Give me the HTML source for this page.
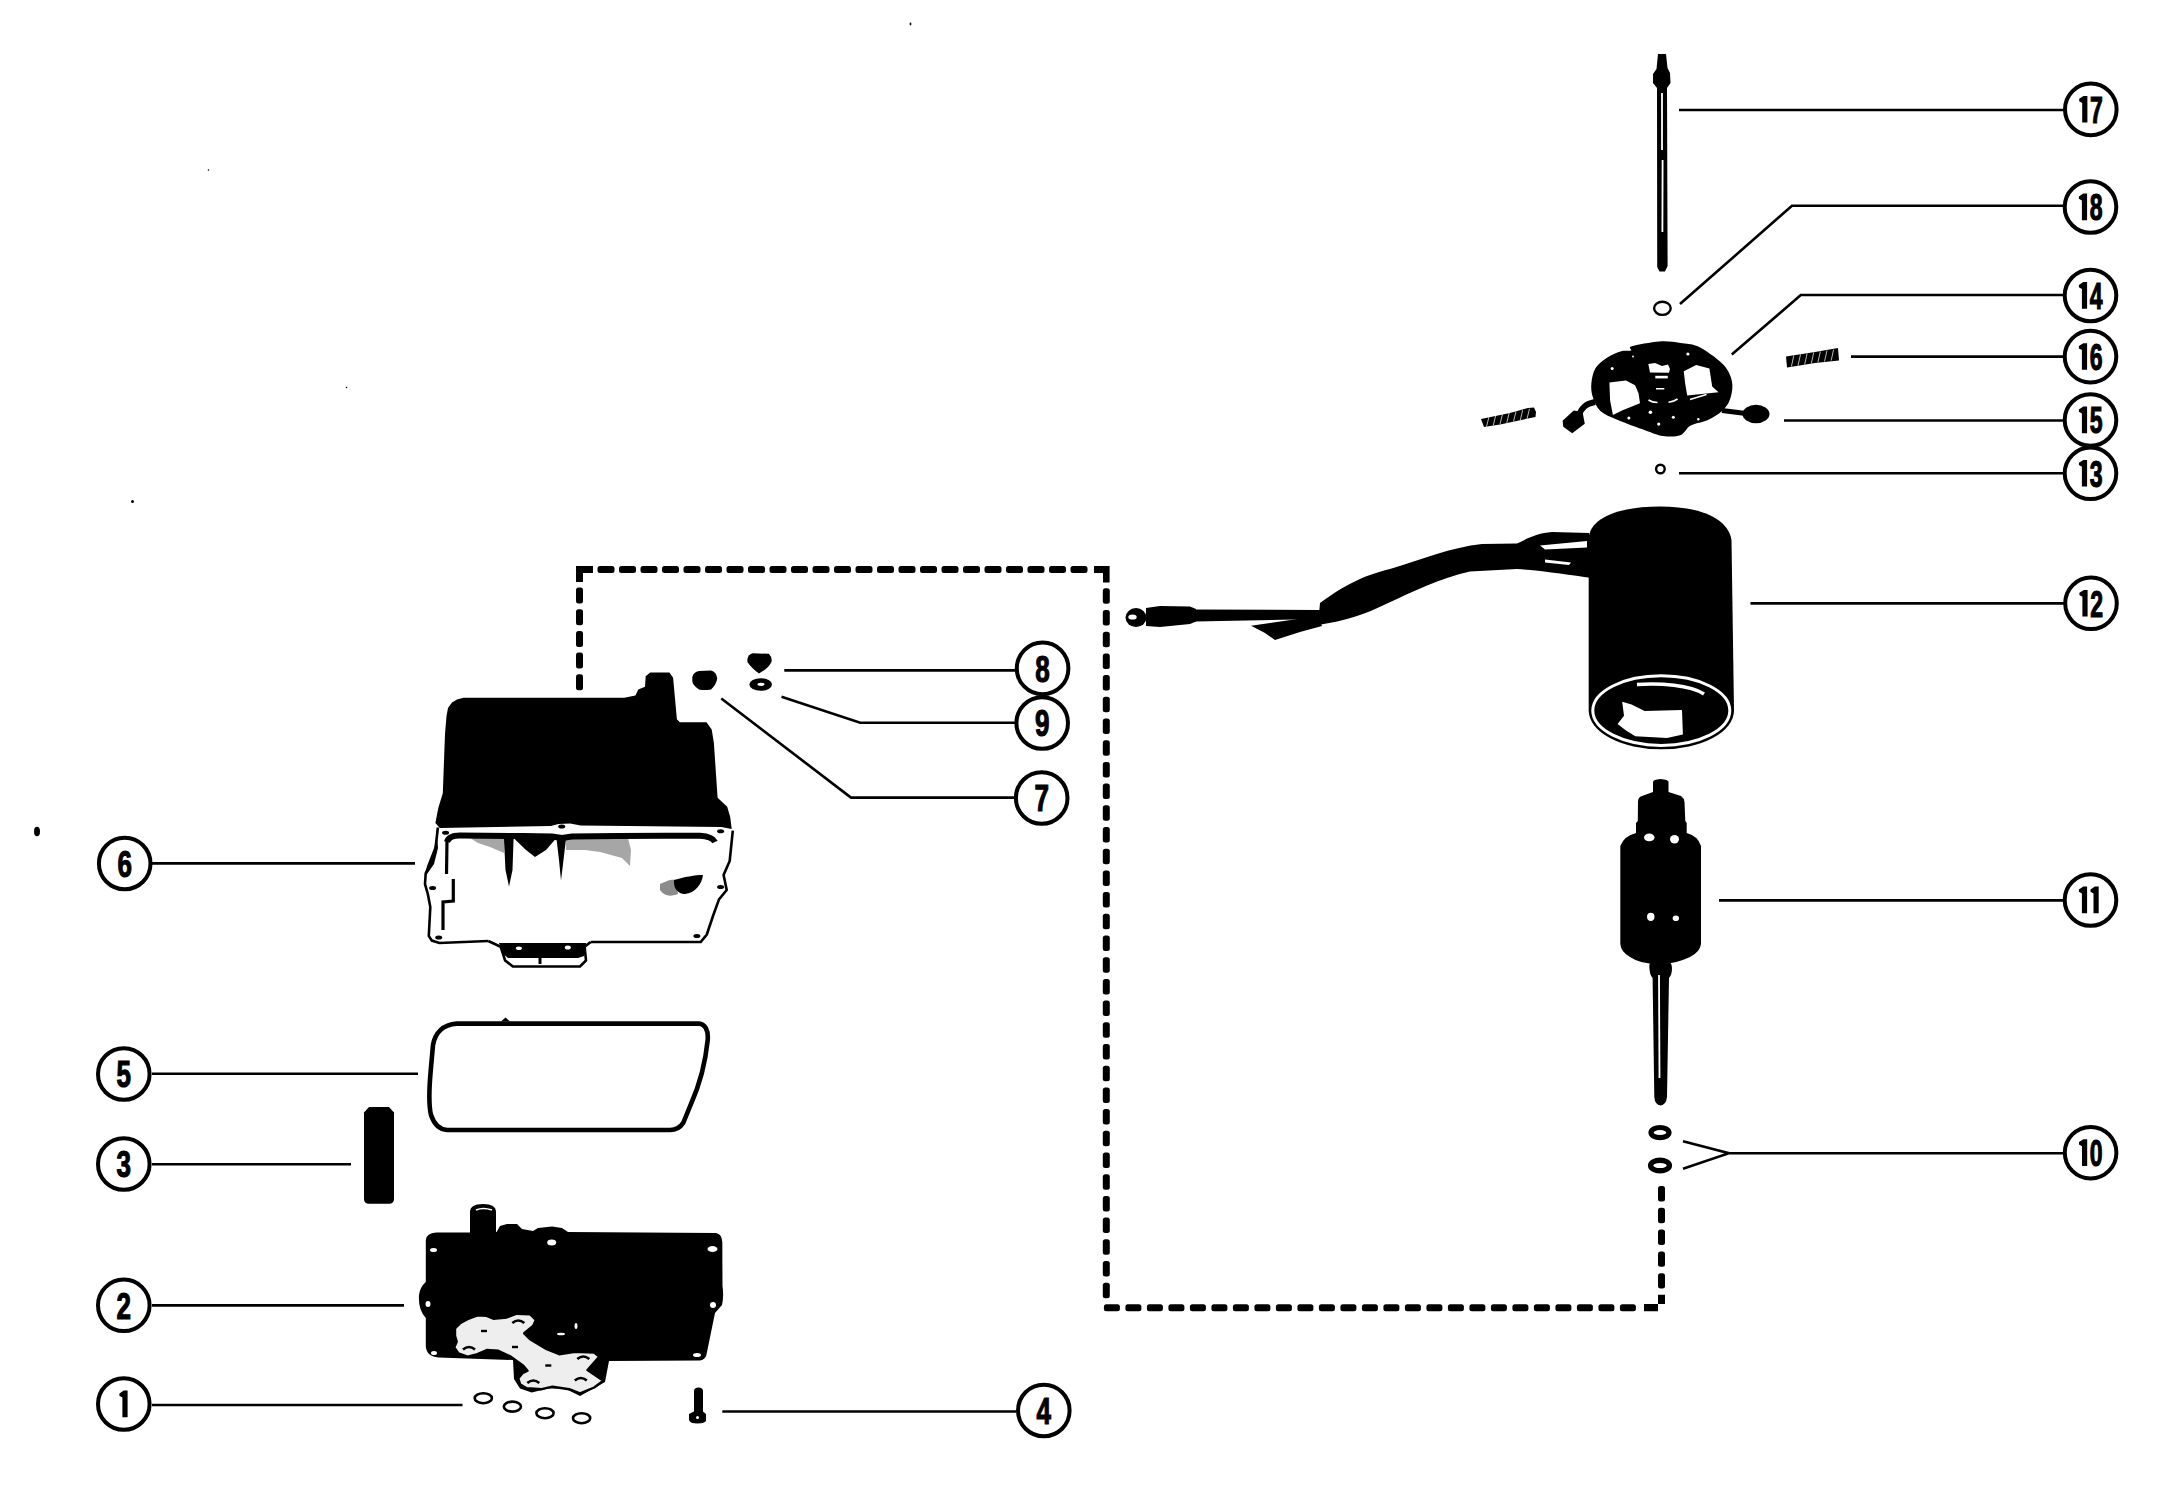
<!DOCTYPE html>
<html><head><meta charset="utf-8"><style>
html,body{margin:0;padding:0;background:#fff;width:2160px;height:1501px;overflow:hidden}
svg{display:block}
</style></head><body>
<svg width="2160" height="1501" viewBox="0 0 2160 1501">
<rect width="2160" height="1501" fill="#fff"/>
<circle cx="2090.8" cy="109.4" r="25.8" fill="#fff" stroke="#000" stroke-width="4"/>
<path d="M2082.2,122.6 L2082.2,102.9 L2079.2,101.2 L2079.2,98.8 L2083.6,96.0 L2087.4,96.0 L2087.4,122.6 Z" fill="#000"/>
<g transform="translate(2096.4,122.6) scale(0.62,1)"><text x="0" y="0" text-anchor="middle" font-family="Liberation Sans" font-weight="bold" font-size="37.2" stroke="#000" stroke-width="1.2">7</text></g>
<circle cx="2090.5" cy="207" r="25.8" fill="#fff" stroke="#000" stroke-width="4"/>
<path d="M2081.9,220.2 L2081.9,200.5 L2078.9,198.8 L2078.9,196.4 L2083.3,193.6 L2087.1,193.6 L2087.1,220.2 Z" fill="#000"/>
<g transform="translate(2096.1,220.2) scale(0.62,1)"><text x="0" y="0" text-anchor="middle" font-family="Liberation Sans" font-weight="bold" font-size="37.2" stroke="#000" stroke-width="1.2">8</text></g>
<circle cx="2090.5" cy="295.5" r="25.8" fill="#fff" stroke="#000" stroke-width="4"/>
<path d="M2081.9,308.7 L2081.9,289.0 L2078.9,287.3 L2078.9,284.9 L2083.3,282.1 L2087.1,282.1 L2087.1,308.7 Z" fill="#000"/>
<g transform="translate(2096.1,308.7) scale(0.62,1)"><text x="0" y="0" text-anchor="middle" font-family="Liberation Sans" font-weight="bold" font-size="37.2" stroke="#000" stroke-width="1.2">4</text></g>
<circle cx="2090.5" cy="356.6" r="25.8" fill="#fff" stroke="#000" stroke-width="4"/>
<path d="M2081.9,369.8 L2081.9,350.1 L2078.9,348.4 L2078.9,346.0 L2083.3,343.2 L2087.1,343.2 L2087.1,369.8 Z" fill="#000"/>
<g transform="translate(2096.1,369.8) scale(0.62,1)"><text x="0" y="0" text-anchor="middle" font-family="Liberation Sans" font-weight="bold" font-size="37.2" stroke="#000" stroke-width="1.2">6</text></g>
<circle cx="2090.5" cy="420" r="25.8" fill="#fff" stroke="#000" stroke-width="4"/>
<path d="M2081.9,433.2 L2081.9,413.5 L2078.9,411.8 L2078.9,409.4 L2083.3,406.6 L2087.1,406.6 L2087.1,433.2 Z" fill="#000"/>
<g transform="translate(2096.1,433.2) scale(0.62,1)"><text x="0" y="0" text-anchor="middle" font-family="Liberation Sans" font-weight="bold" font-size="37.2" stroke="#000" stroke-width="1.2">5</text></g>
<circle cx="2090.5" cy="473.3" r="25.8" fill="#fff" stroke="#000" stroke-width="4"/>
<path d="M2081.9,486.5 L2081.9,466.8 L2078.9,465.1 L2078.9,462.7 L2083.3,459.9 L2087.1,459.9 L2087.1,486.5 Z" fill="#000"/>
<g transform="translate(2096.1,486.5) scale(0.62,1)"><text x="0" y="0" text-anchor="middle" font-family="Liberation Sans" font-weight="bold" font-size="37.2" stroke="#000" stroke-width="1.2">3</text></g>
<circle cx="2091" cy="603.3" r="25.8" fill="#fff" stroke="#000" stroke-width="4"/>
<path d="M2082.4,616.5 L2082.4,596.8 L2079.4,595.1 L2079.4,592.7 L2083.8,589.9 L2087.6,589.9 L2087.6,616.5 Z" fill="#000"/>
<g transform="translate(2096.6,616.5) scale(0.62,1)"><text x="0" y="0" text-anchor="middle" font-family="Liberation Sans" font-weight="bold" font-size="37.2" stroke="#000" stroke-width="1.2">2</text></g>
<circle cx="2090.5" cy="900" r="25.8" fill="#fff" stroke="#000" stroke-width="4"/>
<path d="M2081.9,913.2 L2081.9,893.5 L2078.9,891.8 L2078.9,889.4 L2083.3,886.6 L2087.1,886.6 L2087.1,913.2 Z" fill="#000"/>
<path d="M2093.5,913.2 L2093.5,893.5 L2090.5,891.8 L2090.5,889.4 L2094.9,886.6 L2098.7,886.6 L2098.7,913.2 Z" fill="#000"/>
<circle cx="2090.6" cy="1152.7" r="25.8" fill="#fff" stroke="#000" stroke-width="4"/>
<path d="M2082.0,1165.9 L2082.0,1146.2 L2079.0,1144.5 L2079.0,1142.1 L2083.4,1139.3 L2087.2,1139.3 L2087.2,1165.9 Z" fill="#000"/>
<g transform="translate(2096.2,1165.9) scale(0.62,1)"><text x="0" y="0" text-anchor="middle" font-family="Liberation Sans" font-weight="bold" font-size="37.2" stroke="#000" stroke-width="1.2">0</text></g>
<circle cx="1042.6" cy="668.4" r="25.8" fill="#fff" stroke="#000" stroke-width="4"/>
<g transform="translate(1042.6,681.6) scale(0.7,1)"><text x="0" y="0" text-anchor="middle" font-family="Liberation Sans" font-weight="bold" font-size="37.2" stroke="#000" stroke-width="1.2">8</text></g>
<circle cx="1042.2" cy="723" r="25.8" fill="#fff" stroke="#000" stroke-width="4"/>
<g transform="translate(1042.2,736.2) scale(0.7,1)"><text x="0" y="0" text-anchor="middle" font-family="Liberation Sans" font-weight="bold" font-size="37.2" stroke="#000" stroke-width="1.2">9</text></g>
<circle cx="1041.7" cy="798" r="25.8" fill="#fff" stroke="#000" stroke-width="4"/>
<g transform="translate(1041.7,811.2) scale(0.7,1)"><text x="0" y="0" text-anchor="middle" font-family="Liberation Sans" font-weight="bold" font-size="37.2" stroke="#000" stroke-width="1.2">7</text></g>
<circle cx="124.7" cy="863.5" r="25.8" fill="#fff" stroke="#000" stroke-width="4"/>
<g transform="translate(124.7,876.7) scale(0.7,1)"><text x="0" y="0" text-anchor="middle" font-family="Liberation Sans" font-weight="bold" font-size="37.2" stroke="#000" stroke-width="1.2">6</text></g>
<circle cx="123.8" cy="1074" r="25.8" fill="#fff" stroke="#000" stroke-width="4"/>
<g transform="translate(123.8,1087.2) scale(0.7,1)"><text x="0" y="0" text-anchor="middle" font-family="Liberation Sans" font-weight="bold" font-size="37.2" stroke="#000" stroke-width="1.2">5</text></g>
<circle cx="123.8" cy="1164" r="25.8" fill="#fff" stroke="#000" stroke-width="4"/>
<g transform="translate(123.8,1177.2) scale(0.7,1)"><text x="0" y="0" text-anchor="middle" font-family="Liberation Sans" font-weight="bold" font-size="37.2" stroke="#000" stroke-width="1.2">3</text></g>
<circle cx="123.8" cy="1305.3" r="25.8" fill="#fff" stroke="#000" stroke-width="4"/>
<g transform="translate(123.8,1318.5) scale(0.7,1)"><text x="0" y="0" text-anchor="middle" font-family="Liberation Sans" font-weight="bold" font-size="37.2" stroke="#000" stroke-width="1.2">2</text></g>
<circle cx="123.8" cy="1404" r="25.8" fill="#fff" stroke="#000" stroke-width="4"/>
<path d="M122.4,1417.2 L122.4,1397.5 L119.4,1395.8 L119.4,1393.4 L123.8,1390.6 L127.6,1390.6 L127.6,1417.2 Z" fill="#000"/>
<circle cx="1043.8" cy="1410.5" r="25.8" fill="#fff" stroke="#000" stroke-width="4"/>
<g transform="translate(1043.8,1423.7) scale(0.7,1)"><text x="0" y="0" text-anchor="middle" font-family="Liberation Sans" font-weight="bold" font-size="37.2" stroke="#000" stroke-width="1.2">4</text></g>
<path d="M1679,110 H2064" fill="none" stroke="#000" stroke-width="2.6"/>
<path d="M1680,304 L1792,205.8 H2064" fill="none" stroke="#000" stroke-width="2.6"/>
<path d="M1731.8,354.5 L1800.8,295 H2064" fill="none" stroke="#000" stroke-width="2.6"/>
<path d="M1851,356.6 H2064" fill="none" stroke="#000" stroke-width="2.6"/>
<path d="M1784,420.5 H2064" fill="none" stroke="#000" stroke-width="2.6"/>
<path d="M1679,473.3 H2064" fill="none" stroke="#000" stroke-width="2.6"/>
<path d="M1750.5,603.4 H2064" fill="none" stroke="#000" stroke-width="2.6"/>
<path d="M1719,900.4 H2064" fill="none" stroke="#000" stroke-width="2.6"/>
<path d="M1683,1141.2 L1729,1153.2 L1683,1168.8 M1729,1153.2 H2064" fill="none" stroke="#000" stroke-width="2.6"/>
<path d="M784.3,670.4 H1016" fill="none" stroke="#000" stroke-width="2.6"/>
<path d="M781.5,696.7 L860.2,722.8 H1016" fill="none" stroke="#000" stroke-width="2.6"/>
<path d="M721.3,698.5 L851,797.6 H1016" fill="none" stroke="#000" stroke-width="2.6"/>
<path d="M152,863.4 H415" fill="none" stroke="#000" stroke-width="2.6"/>
<path d="M152,1073.8 H418" fill="none" stroke="#000" stroke-width="2.6"/>
<path d="M152,1164.2 H351" fill="none" stroke="#000" stroke-width="2.6"/>
<path d="M152,1305.4 H404" fill="none" stroke="#000" stroke-width="2.6"/>
<path d="M152,1405 H462.5" fill="none" stroke="#000" stroke-width="2.6"/>
<path d="M722.3,1411.5 H1016" fill="none" stroke="#000" stroke-width="2.6"/>
<g fill="#000"><path d="M576,566 H593 V573 H583 V582 H576 Z"/><rect x="597.5" y="566.0" width="17.0" height="7" rx="2.5"/><rect x="619.0" y="566.0" width="17.0" height="7" rx="2.5"/><rect x="640.5" y="566.0" width="17.0" height="7" rx="2.5"/><rect x="662.0" y="566.0" width="17.0" height="7" rx="2.5"/><rect x="683.5" y="566.0" width="17.0" height="7" rx="2.5"/><rect x="705.0" y="566.0" width="17.0" height="7" rx="2.5"/><rect x="726.5" y="566.0" width="17.0" height="7" rx="2.5"/><rect x="748.0" y="566.0" width="17.0" height="7" rx="2.5"/><rect x="769.5" y="566.0" width="17.0" height="7" rx="2.5"/><rect x="791.0" y="566.0" width="17.0" height="7" rx="2.5"/><rect x="812.5" y="566.0" width="17.0" height="7" rx="2.5"/><rect x="834.0" y="566.0" width="17.0" height="7" rx="2.5"/><rect x="855.5" y="566.0" width="17.0" height="7" rx="2.5"/><rect x="877.0" y="566.0" width="17.0" height="7" rx="2.5"/><rect x="898.5" y="566.0" width="17.0" height="7" rx="2.5"/><rect x="920.0" y="566.0" width="17.0" height="7" rx="2.5"/><rect x="941.5" y="566.0" width="17.0" height="7" rx="2.5"/><rect x="963.0" y="566.0" width="17.0" height="7" rx="2.5"/><rect x="984.5" y="566.0" width="17.0" height="7" rx="2.5"/><rect x="1006.0" y="566.0" width="17.0" height="7" rx="2.5"/><rect x="1027.5" y="566.0" width="17.0" height="7" rx="2.5"/><rect x="1049.0" y="566.0" width="17.0" height="7" rx="2.5"/><rect x="1070.5" y="566.0" width="17.0" height="7" rx="2.5"/><path d="M1094,566 H1109.6 V582.6 H1103 V573 H1094 Z"/><rect x="1102.8" y="588.3" width="7" height="15.5" rx="2.5"/><rect x="1102.8" y="610.0" width="7" height="15.5" rx="2.5"/><rect x="1102.8" y="631.7" width="7" height="15.5" rx="2.5"/><rect x="1102.8" y="653.4" width="7" height="15.5" rx="2.5"/><rect x="1102.8" y="675.1" width="7" height="15.5" rx="2.5"/><rect x="1102.8" y="696.8" width="7" height="15.5" rx="2.5"/><rect x="1102.8" y="718.5" width="7" height="15.5" rx="2.5"/><rect x="1102.8" y="740.2" width="7" height="15.5" rx="2.5"/><rect x="1102.8" y="761.9" width="7" height="15.5" rx="2.5"/><rect x="1102.8" y="783.6" width="7" height="15.5" rx="2.5"/><rect x="1102.8" y="805.3" width="7" height="15.5" rx="2.5"/><rect x="1102.8" y="827.0" width="7" height="15.5" rx="2.5"/><rect x="1102.8" y="848.7" width="7" height="15.5" rx="2.5"/><rect x="1102.8" y="870.4" width="7" height="15.5" rx="2.5"/><rect x="1102.8" y="892.1" width="7" height="15.5" rx="2.5"/><rect x="1102.8" y="913.8" width="7" height="15.5" rx="2.5"/><rect x="1102.8" y="935.5" width="7" height="15.5" rx="2.5"/><rect x="1102.8" y="957.2" width="7" height="15.5" rx="2.5"/><rect x="1102.8" y="978.9" width="7" height="15.5" rx="2.5"/><rect x="1102.8" y="1000.6" width="7" height="15.5" rx="2.5"/><rect x="1102.8" y="1022.3" width="7" height="15.5" rx="2.5"/><rect x="1102.8" y="1044.0" width="7" height="15.5" rx="2.5"/><rect x="1102.8" y="1065.7" width="7" height="15.5" rx="2.5"/><rect x="1102.8" y="1087.4" width="7" height="15.5" rx="2.5"/><rect x="1102.8" y="1109.1" width="7" height="15.5" rx="2.5"/><rect x="1102.8" y="1130.8" width="7" height="15.5" rx="2.5"/><rect x="1102.8" y="1152.5" width="7" height="15.5" rx="2.5"/><rect x="1102.8" y="1174.2" width="7" height="15.5" rx="2.5"/><rect x="1102.8" y="1195.9" width="7" height="15.5" rx="2.5"/><rect x="1102.8" y="1217.6" width="7" height="15.5" rx="2.5"/><rect x="1102.8" y="1239.3" width="7" height="15.5" rx="2.5"/><rect x="1102.8" y="1261.0" width="7" height="15.5" rx="2.5"/><rect x="1102.8" y="1282.7" width="7" height="15.5" rx="2.5"/><rect x="576.0" y="587.5" width="7" height="16.0" rx="2.5"/><rect x="576.0" y="609.2" width="7" height="16.0" rx="2.5"/><rect x="576.0" y="630.9" width="7" height="16.0" rx="2.5"/><rect x="576.0" y="652.6" width="7" height="16.0" rx="2.5"/><rect x="576.0" y="674.3" width="7" height="16.0" rx="2.5"/><rect x="1103.9" y="1304.2" width="16.0" height="7" rx="2.5"/><rect x="1125.4" y="1304.2" width="16.0" height="7" rx="2.5"/><rect x="1146.9" y="1304.2" width="16.0" height="7" rx="2.5"/><rect x="1168.4" y="1304.2" width="16.0" height="7" rx="2.5"/><rect x="1189.9" y="1304.2" width="16.0" height="7" rx="2.5"/><rect x="1211.4" y="1304.2" width="16.0" height="7" rx="2.5"/><rect x="1232.9" y="1304.2" width="16.0" height="7" rx="2.5"/><rect x="1254.4" y="1304.2" width="16.0" height="7" rx="2.5"/><rect x="1275.9" y="1304.2" width="16.0" height="7" rx="2.5"/><rect x="1297.4" y="1304.2" width="16.0" height="7" rx="2.5"/><rect x="1318.9" y="1304.2" width="16.0" height="7" rx="2.5"/><rect x="1340.4" y="1304.2" width="16.0" height="7" rx="2.5"/><rect x="1361.9" y="1304.2" width="16.0" height="7" rx="2.5"/><rect x="1383.4" y="1304.2" width="16.0" height="7" rx="2.5"/><rect x="1404.9" y="1304.2" width="16.0" height="7" rx="2.5"/><rect x="1426.4" y="1304.2" width="16.0" height="7" rx="2.5"/><rect x="1447.9" y="1304.2" width="16.0" height="7" rx="2.5"/><rect x="1469.4" y="1304.2" width="16.0" height="7" rx="2.5"/><rect x="1490.9" y="1304.2" width="16.0" height="7" rx="2.5"/><rect x="1512.4" y="1304.2" width="16.0" height="7" rx="2.5"/><rect x="1533.9" y="1304.2" width="16.0" height="7" rx="2.5"/><rect x="1555.4" y="1304.2" width="16.0" height="7" rx="2.5"/><rect x="1576.9" y="1304.2" width="16.0" height="7" rx="2.5"/><rect x="1598.4" y="1304.2" width="16.0" height="7" rx="2.5"/><rect x="1619.9" y="1304.2" width="16.0" height="7" rx="2.5"/><path d="M1644,1304 H1665 V1294.7 H1658 V1311.3 H1644 Z"/><rect x="1658.0" y="1186.0" width="7" height="15.4" rx="2.5"/><rect x="1658.0" y="1207.8" width="7" height="15.4" rx="2.5"/><rect x="1658.0" y="1229.6" width="7" height="15.4" rx="2.5"/><rect x="1658.0" y="1251.4" width="7" height="15.4" rx="2.5"/><rect x="1658.0" y="1273.2" width="7" height="15.4" rx="2.5"/></g>
<polygon points="1658,54 1666,54 1667.5,68 1670,73 1670.5,83 1667,88 1667.6,266 1665,271.5 1659.5,271.5 1657.2,267 1657,88 1653,83 1653,74 1656.5,69" fill="#000" />
<path d="M1662,93 L1662,150 M1662.6,160 L1662.4,232" stroke="#fff" stroke-width="1.8" fill="none"/>
<ellipse cx="1662.4" cy="308.3" rx="8.3" ry="6.6" fill="none" stroke="#000" stroke-width="2.4"/>
<path d="M1631.7,346.3 C1636.4,344.8 1651.3,342.1 1659.4,341.5 C1667.5,340.9 1673.9,342.1 1680.3,342.9 C1686.7,343.7 1691.2,343.4 1697.6,346.3 C1704.0,349.2 1713.4,356.0 1718.5,360.2 C1723.6,364.4 1725.9,367.1 1728.2,371.3 C1730.5,375.5 1732.2,380.3 1732.4,385.2 C1732.6,390.1 1731.3,396.2 1729.6,400.5 C1727.9,404.8 1725.6,407.6 1722,410.9 C1718.4,414.1 1713.2,417.6 1708,420 C1702.8,422.4 1695.3,423.0 1690.7,425.5 C1686.1,428.0 1684.9,433.5 1680.3,435.2 C1675.7,436.9 1668.8,436.7 1663,435.9 C1657.2,435.1 1653.1,433.0 1645.6,430.4 C1638.1,427.8 1625.3,423.2 1617.8,420 C1610.3,416.8 1604.6,414.7 1600.4,410.9 C1596.2,407.1 1594.3,401.6 1592.8,397 C1591.3,392.4 1590.9,388.0 1591.4,383.1 C1591.9,378.2 1592.9,372.2 1595.6,367.9 C1598.3,363.6 1603.1,360.2 1607.4,357.4 C1611.7,354.6 1617.4,352.3 1621.3,351.2 C1625.2,350.1 1629.3,351.3 1631,350.5 C1632.7,349.7 1627.0,347.8 1631.7,346.3 Z" fill="#000" />
<polygon points="1609.4,382.4 1626,380.4 1635.1,385.2 1638.6,393.6 1640,403.3 1622.6,410.2 1612.9,415.1 1610.1,400.5" fill="#fff" />
<path d="M1622,412 L1641.5,408.5" stroke="#000" stroke-width="2.2" fill="none"/>
<polygon points="1683.75,371.3 1696.25,365.1 1709.4,368.6 1712.2,386.6 1718.5,392.2 1687.2,395.6 1685.1,383.1" fill="#fff" />
<path d="M1690,399.5 L1706.5,394.5" stroke="#fff" stroke-width="1.5" fill="none"/>
<polygon points="1648.3,364 1655,363 1662,366 1668,364.5 1670,369 1669,372.7 1650,372.5" fill="#fff" />
<rect x="1655.3" y="375.8" width="12.5" height="2.6" fill="#fff"/><rect x="1656" y="388" width="8.3" height="1.5" fill="#fff"/>
<path d="M1648.5,400 Q1652,402.5 1657.5,402.5 M1668.5,402.2 Q1674,401.5 1677.5,399" stroke="#fff" stroke-width="1.6" fill="none"/>
<circle cx="1650.4" cy="412.3" r="1.8" fill="#fff"/>
<circle cx="1628.9" cy="417.9" r="1.5" fill="#fff"/>
<circle cx="1673.3" cy="417.2" r="1.5" fill="#fff"/>
<circle cx="1658.75" cy="424.1" r="1.6" fill="#fff"/>
<circle cx="1698.3" cy="419.25" r="1.2" fill="#fff"/>
<circle cx="1687.9" cy="354" r="1.6" fill="#fff"/>
<circle cx="1612.2" cy="368.6" r="1.5" fill="#fff"/>
<circle cx="1633" cy="356.5" r="0.9" fill="#fff"/>
<path d="M1595,402 C1586,404 1582,407 1579,415" stroke="#000" stroke-width="6" fill="none"/>
<polygon points="1562.6,420.7 1573.7,410.4 1582.6,411.9 1584.8,423.7 1572.2,433.3 1563.3,426.7" fill="#000" />
<path d="M1722,410.5 L1746,413.5" stroke="#000" stroke-width="5" fill="none"/>
<ellipse cx="1756" cy="414" rx="13.5" ry="9.2" fill="#000"/>
<polygon points="1481,419 1510,413 1528,408 1534,407.5 1536,412 1535.5,417 1528,418.5 1500,424.5 1484,427" fill="#000" />
<polygon points="1786,356.5 1815,352 1838,348 1839,360.5 1815,363 1787,367.5" fill="#000" />
<path d="M1486.5,426.7 L1489.0,416.7" stroke="#fff" stroke-width="0.9" opacity="0.8"/>
<path d="M1791.4,366.5 L1793.8,355.5" stroke="#fff" stroke-width="0.9" opacity="0.8"/>
<path d="M1493.3,425.4 L1495.7,415.4" stroke="#fff" stroke-width="0.9" opacity="0.8"/>
<path d="M1798.0,365.5 L1800.5,354.5" stroke="#fff" stroke-width="0.9" opacity="0.8"/>
<path d="M1500.0,424.1 L1502.5,414.1" stroke="#fff" stroke-width="0.9" opacity="0.8"/>
<path d="M1804.7,364.5 L1807.1,353.5" stroke="#fff" stroke-width="0.9" opacity="0.8"/>
<path d="M1506.8,422.8 L1509.2,412.8" stroke="#fff" stroke-width="0.9" opacity="0.8"/>
<path d="M1811.3,363.5 L1813.7,352.5" stroke="#fff" stroke-width="0.9" opacity="0.8"/>
<path d="M1513.5,421.4 L1516.0,411.4" stroke="#fff" stroke-width="0.9" opacity="0.8"/>
<path d="M1817.9,362.5 L1820.3,351.5" stroke="#fff" stroke-width="0.9" opacity="0.8"/>
<path d="M1520.3,420.1 L1522.7,410.1" stroke="#fff" stroke-width="0.9" opacity="0.8"/>
<path d="M1824.5,361.5 L1827.0,350.5" stroke="#fff" stroke-width="0.9" opacity="0.8"/>
<path d="M1527.0,418.8 L1529.5,408.8" stroke="#fff" stroke-width="0.9" opacity="0.8"/>
<path d="M1831.2,360.5 L1833.6,349.5" stroke="#fff" stroke-width="0.9" opacity="0.8"/>
<circle cx="1660.4" cy="469" r="4.3" fill="none" stroke="#000" stroke-width="2.4"/>
<path d="M1588.7,537 C1592,515 1625,506.5 1660,506.5 C1700,506.5 1728,518 1731.5,540 L1734,710.6 A72.6,38.7 0 0 1 1588.7,710.6 Z" fill="#000"/>
<ellipse cx="1661.3" cy="710.6" rx="68.5" ry="34.8" fill="none" stroke="#fff" stroke-width="3"/>
<polygon points="1622.2,701.7 1631.6,704.5 1644.6,711 1682,710 1682.9,734.4 1667,738 1635.3,736.2 1626,730.6 1617.6,724 1624,715.7" fill="#fff" />
<path d="M1637,684.5 C1660,683 1690,685 1704,694" stroke="#fff" stroke-width="3.5" fill="none"/>
<path d="M1318,625 L1320,603 C1345,585 1362,576 1390,569 C1420,560 1452,547 1482,544 L1517,543.5 C1528,538 1538,533 1552,532 L1589,533 L1592,578 C1570,575 1545,571 1517,569 L1470,571.5 C1440,578 1412,592 1386,604 C1366,614 1345,621 1318,625 Z" fill="#000"/>
<polygon points="1540,545.5 1587,541 1587,547.5 1545,549.5" fill="#fff" />
<polygon points="1545,559.5 1571,562.5 1569,565 1545,562.5" fill="#fff" />
<polygon points="1195,609.5 1320,610 1320,619 1195,621.5" fill="#000" />
<polygon points="1146,608 1160,606 1190,606.5 1196,609 1196,621.5 1190,624 1160,627 1146,626" fill="#000" />
<ellipse cx="1136" cy="617.6" rx="10.5" ry="9.5" fill="#000"/>
<ellipse cx="1132.5" cy="617" rx="4.2" ry="2.6" fill="#fff"/>
<polygon points="1251,625.7 1270,623 1318,616 1322,626 1300,632 1275,640 1265,633" fill="#000" />
<path d="M1653,782 Q1653,779.5 1660.5,779 Q1668.5,779.5 1668.5,782 V792 L1681,796 Q1684,798 1684.5,802 L1685.3,821 L1686.7,823 V833 Q1698,836 1701,846 V944 Q1700,952 1690,957 Q1675,964 1660,964.5 Q1640,964 1630,957 Q1621,952 1620.3,944 V846 Q1624,836 1636,833 V823 L1637.8,821 L1638,802 Q1638,797 1642,796 L1653,792 Z" fill="#000"/>
<ellipse cx="1649.25" cy="837.45" rx="5.25" ry="3.85" fill="#fff"/>
<ellipse cx="1674.5" cy="839.2" rx="4.5" ry="4.2" fill="#fff"/>
<ellipse cx="1650.75" cy="916.85" rx="3.75" ry="4.15" fill="#fff"/>
<ellipse cx="1675.8500000000001" cy="918.1999999999999" rx="3.15" ry="2.8" fill="#fff"/>
<path d="M1649.3,966 Q1649,962 1655,961 L1667,961 Q1672,962 1672,968 Q1672,975 1669,978 L1667,1097 Q1666,1105 1660.5,1105.5 Q1655,1105 1654.3,1097 L1652.6,978 Q1649.5,975 1649.3,966 Z" fill="#000"/>
<path d="M1659,975 L1659.5,1078" stroke="#fff" stroke-width="1.8" fill="none"/>
<ellipse cx="1660" cy="1132.6" rx="9" ry="5.1" fill="none" stroke="#000" stroke-width="5.2"/>
<ellipse cx="1660" cy="1165.5" rx="9.4" ry="5.3" fill="none" stroke="#000" stroke-width="5.4"/>
<polygon points="446.5,716 448,708 452,702.5 457,699.5 463.5,697.8 624.3,697.8 635.4,695.6 638.3,689.6 645,686.7 645.7,676.3 650.2,672.6 669.4,672.6 673.1,677.8 676.9,719.3 679.8,722.2 706.5,722.2 711.7,729.6 713.9,743 717.6,797.8 727.2,806.7 730.2,817 731.7,828.9 721.3,827 580.6,825.5 570.2,823.5 558.3,824 551,826 439.8,828 435.4,823 438.3,808.1 442.8,793.3 445,734" fill="#000" />
<path d="M437.9,827.5 L434.9,853.5 L425.7,873.3 L425,884 L428,894.7 L430.3,907 L428.8,936 L431.8,940.6 L439.4,943 L488.3,941 M590.7,942 L700.7,942 L706.8,934.5 L713,916 L719,899.3 L726.7,890 L723.6,874.9 L729.7,861 L732.8,830.6" fill="none" stroke="#000" stroke-width="2.6"/>
<polygon points="436.5,829 436,843 427,866 425,877 434,864 438,848" fill="#000" />
<path d="M447,842 C448,838 452,835.5 460,835.5 C480,835.5 520,836 552,836.5 L562,838 L572,836.5 C600,836 650,835.5 700,835.8 C708,836.3 713,838 715,842" fill="none" stroke="#000" stroke-width="6"/>
<path d="M447,840 L446.5,874 M453.3,879 L453.3,901 L443,902 L443,930" fill="none" stroke="#000" stroke-width="3.2"/>
<polygon points="503.9,838 513.6,838 512.5,870 509,886.5 505.5,870" fill="#000" />
<polygon points="513.6,838 556.4,838 546,850 535,857 526,850" fill="#000" />
<polygon points="556.4,838 566.1,838 563.5,860 561,880.5 559,860" fill="#000" />
<polygon points="470,838 504,838 504,853 490,847 478,843" fill="#000" opacity="0.35"/>
<polygon points="566,838 628,838 631,850 630,866 622,858 600,852 585,850 566,850" fill="#000" opacity="0.35"/>
<path d="M674,880 C684,877 695,875 703,875 C702,884 695,893 685,894 C679,894.5 673,889 674,880 Z" fill="#000"/>
<path d="M660,884 C668,880 672,879 676,880 L678,894 C670,897 664,896 660,890 Z" fill="#000" opacity="0.45"/>
<ellipse cx="561.7" cy="826.5" rx="3.5" ry="2" fill="#000"/>
<ellipse cx="445.6" cy="832.8" rx="3.5" ry="2" fill="#000"/>
<ellipse cx="720.6" cy="831.3" rx="3.5" ry="2" fill="#000"/>
<ellipse cx="432.6" cy="887.9" rx="3.5" ry="2" fill="#000"/>
<ellipse cx="720.6" cy="887" rx="3.5" ry="2" fill="#000"/>
<ellipse cx="438.7" cy="937.5" rx="3.5" ry="2" fill="#000"/>
<ellipse cx="696.9" cy="936" rx="3.5" ry="2" fill="#000"/>
<path d="M488.3,941 L500.6,946.7 L505.1,960.4 L512.8,966.5 L580,966.5 L586,960.4 L584.6,946.7 L590.7,942" fill="none" stroke="#000" stroke-width="2.6"/>
<polygon points="499,943 586,943 584,956 578,958 508,958 502,953" fill="#000" />
<ellipse cx="518.9" cy="948.2" rx="3" ry="1.8" fill="#fff"/><ellipse cx="567.8" cy="947.4" rx="3" ry="2" fill="#fff"/>
<path d="M540,944 L540,964" stroke="#000" stroke-width="3"/>
<path d="M692.3,677 Q693.5,671.8 699,671 L711,670.6 Q716.5,672 717.2,678.5 Q716.5,684.5 711,689.5 Q704,690.6 699,689.4 Q692.5,685.5 692.3,681 Z" fill="#000"/>
<path d="M747.4,659.5 Q748,654.2 753,653.3 L768.8,653.8 Q772.2,657 771.6,661.5 Q769.5,667.5 759,673.6 Q751,667.5 747.4,662 Z" fill="#000"/>
<ellipse cx="760.7" cy="684.5" rx="11.3" ry="6.2" fill="#000"/><ellipse cx="761" cy="684.3" rx="3.6" ry="1.6" fill="#fff"/>
<path d="M456.7,1023.6 L699,1023.6 C705,1024 708.5,1030 707.7,1040 C705.5,1062 699,1086 691,1104 L683.3,1122.8 C680,1128 676,1130 670,1130 L447.2,1130 C440,1129.5 434,1124 431,1115 C428.5,1105 429,1090 430.7,1070.8 L433,1045 C435,1033 443,1024.5 456.7,1023.6 Z" fill="none" stroke="#000" stroke-width="4.6"/>
<polygon points="501,1021.5 505.5,1017.5 510,1021.5" fill="#000" />
<ellipse cx="37" cy="831.5" rx="3" ry="4.8" fill="#000"/>
<ellipse cx="910.5" cy="24" rx="0.9" ry="1.4" fill="#000"/>
<ellipse cx="132.5" cy="501.5" rx="1.5" ry="1.5" fill="#000"/><circle cx="208.5" cy="170" r="0.8" fill="#000"/><circle cx="346.5" cy="387.5" r="0.8" fill="#000"/>
<path d="M369,1107 L389,1107 L394,1112.5 L394,1199 Q394,1203.7 389,1203.7 L369,1203.7 Q364,1203.7 364,1199 L364,1112.5 Z" fill="#000"/>
<path d="M470,1212 Q470,1204 483,1204 Q496,1204 496,1212 L496,1232 L496.6,1232 L500,1226 L507,1224 L517,1224 L522,1229 L533,1231 L538,1228 L552,1226.5 L562,1228 L568,1232 L716,1233 Q722,1234 722.3,1242 L722.5,1286 Q724,1296 722,1305 L715,1313 L707,1352 Q706,1360 700,1360.6 L609,1361 L605,1382 L580,1396 L565,1388.5 L548,1388.5 L531.7,1392.5 L520,1388.5 L514,1379 L513,1360 L438.3,1357.5 Q426,1356 425.8,1346 L425.8,1318 Q418,1310 419,1295 Q420,1287 425.8,1282 L425.8,1240 Q426.5,1233 436,1232.5 L470,1232.5 Z" fill="#000"/>
<polygon points="455,1328.3 460,1323.3 467.5,1319.2 477.5,1315.4 486.7,1315.8 493.3,1318.75 506.7,1317.5 516.7,1313.75 530,1314.2 535.8,1320 533.3,1325.8 524.2,1333.3 530,1339.2 546.7,1349.2 559.2,1354.2 575,1351.7 594.2,1352.5 599.2,1356.7 587.5,1370 603.3,1380.8 594.2,1387.5 580,1393.3 569.2,1389.2 552.5,1386.7 541.7,1389.2 526.7,1388.3 520,1384.2 518.3,1378.3 522.5,1373.3 527.5,1370.8 523.3,1365.8 510.8,1356.7 498.3,1350.8 486.7,1350 477.5,1354.2 467.5,1356.7 458.3,1353.3 454.2,1347.5 456.7,1341.7 455,1335.8" fill="#eeeeee" stroke="#000" stroke-width="2.4" stroke-linejoin="round"/>
<path d="M512.3,1323.0 Q518.3,1318.0 524.3,1323.0" fill="none" stroke="#000" stroke-width="2.6"/>
<path d="M463,1349.5 Q469,1344.5 475,1349.5" fill="none" stroke="#000" stroke-width="2.6"/>
<path d="M577.3,1359.0 Q583.3,1354.0 589.3,1359.0" fill="none" stroke="#000" stroke-width="2.6"/>
<path d="M527.3,1383.0 Q533.3,1378.0 539.3,1383.0" fill="none" stroke="#000" stroke-width="2.6"/>
<path d="M574.8,1380.5 Q580.8,1375.5 586.8,1380.5" fill="none" stroke="#000" stroke-width="2.6"/>
<rect x="481" y="1329.8" width="6" height="2.4" fill="#000"/>
<rect x="512" y="1345.8" width="6" height="2.4" fill="#000"/>
<rect x="545.3" y="1364.3" width="6" height="2.4" fill="#000"/>
<ellipse cx="433.5" cy="1250" rx="3.5" ry="2" fill="#fff"/>
<ellipse cx="551.7" cy="1242.5" rx="4.5" ry="3" fill="#fff"/>
<ellipse cx="712.5" cy="1249" rx="5" ry="3" fill="#fff"/>
<ellipse cx="428" cy="1304" rx="2.5" ry="3" fill="#fff"/>
<ellipse cx="713" cy="1305" rx="3" ry="3" fill="#fff"/>
<ellipse cx="434" cy="1353" rx="3" ry="2" fill="#fff"/>
<ellipse cx="697" cy="1355" rx="4" ry="2" fill="#fff"/>
<ellipse cx="576" cy="1326" rx="1.5" ry="3" fill="#fff"/>
<ellipse cx="561" cy="1334" rx="4" ry="1.3" fill="#fff"/>
<path d="M476,1210 Q483,1207 492,1210" stroke="#fff" stroke-width="1.6" fill="none"/>
<ellipse cx="483.3" cy="1398.2" rx="8.6" ry="5" fill="none" stroke="#000" stroke-width="2.6"/>
<ellipse cx="512.4" cy="1406.6" rx="8.6" ry="5" fill="none" stroke="#000" stroke-width="2.6"/>
<ellipse cx="545" cy="1413.2" rx="8.6" ry="5" fill="none" stroke="#000" stroke-width="2.6"/>
<ellipse cx="581.6" cy="1418.2" rx="8.6" ry="5" fill="none" stroke="#000" stroke-width="2.6"/>
<path d="M694,1391 Q694,1387.5 698.5,1387.5 Q703,1387.5 703,1391 L703,1411.5 L706,1414 L706,1421 Q704,1423.5 697.5,1423.5 Q690,1423.5 689,1420 L689,1414 L694,1411.5 Z" fill="#000"/>
<circle cx="697.5" cy="1417.5" r="1.5" fill="#fff"/>
</svg></body></html>
